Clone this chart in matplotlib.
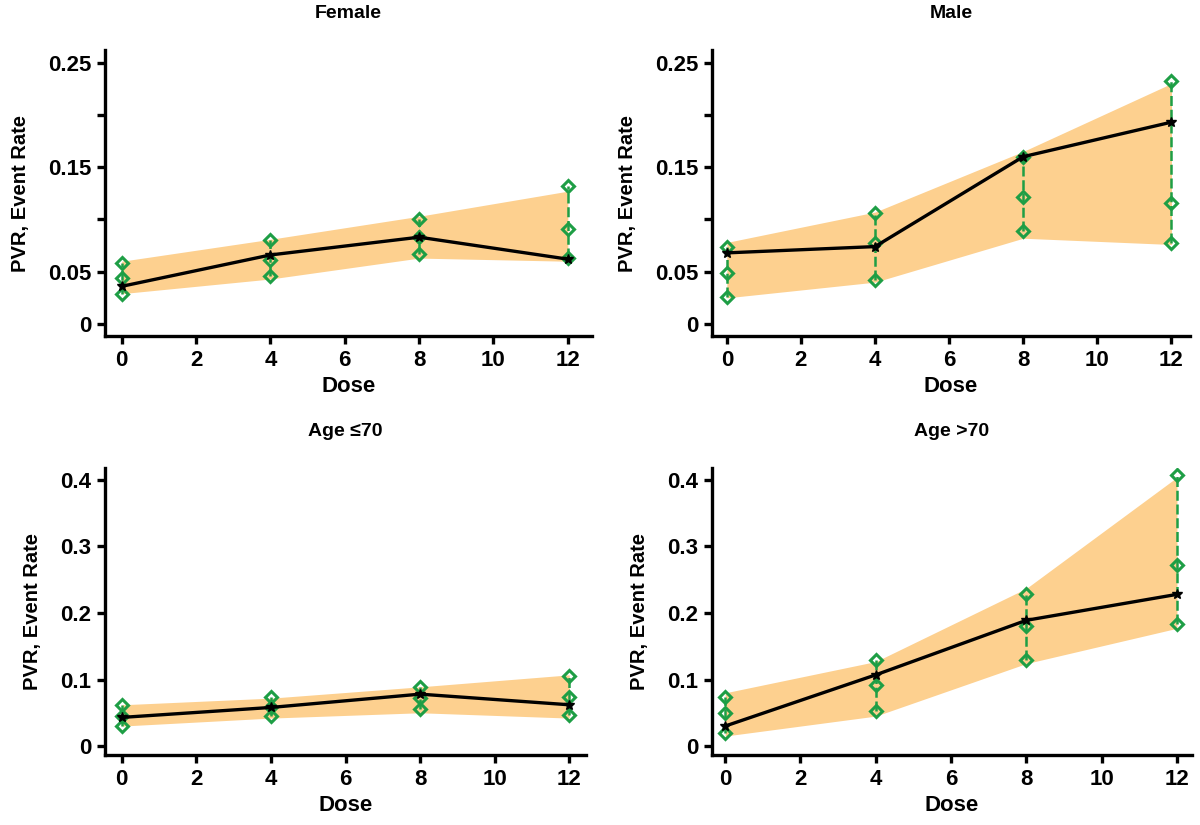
"""
PVR event rate by dose, split by sex and age group.
"""

import matplotlib
matplotlib.use("Agg")
import matplotlib.pyplot as plt
from matplotlib.ticker import FixedLocator, FixedFormatter

plt.rcParams.update({
    "font.family": ["Liberation Sans", "DejaVu Sans"],
    "font.weight": "bold",
    "axes.spines.top": False,
    "axes.spines.right": False,
})

DOSE = [0, 4, 8, 12]

# model fit (black line) and its band
FEMALE_FIT = [0.036, 0.066, 0.083, 0.062]
FEMALE_LO = [0.029, 0.043, 0.063, 0.060]
FEMALE_HI = [0.060, 0.081, 0.103, 0.127]
# observed points (green): upper, middle, lower
FEMALE_OBS_HI = [0.058, 0.080, 0.100, 0.132]
FEMALE_OBS_MID = [0.044, 0.0615, 0.0835, 0.091]
FEMALE_OBS_LO = [0.029, 0.046, 0.067, 0.0635]

MALE_FIT = [0.068, 0.074, 0.160, 0.193]
MALE_LO = [0.025, 0.040, 0.082, 0.076]
MALE_HI = [0.078, 0.107, 0.165, 0.230]
MALE_OBS_HI = [0.074, 0.106, 0.160, 0.232]
MALE_OBS_MID = [0.049, 0.077, 0.121, 0.116]
MALE_OBS_LO = [0.026, 0.042, 0.089, 0.077]

YOUNG_FIT = [0.043, 0.058, 0.078, 0.062]
YOUNG_LO = [0.030, 0.042, 0.050, 0.042]
YOUNG_HI = [0.062, 0.072, 0.089, 0.107]
YOUNG_OBS_HI = [0.062, 0.074, 0.088, 0.106]
YOUNG_OBS_MID = [0.045, 0.059, 0.072, 0.073]
YOUNG_OBS_LO = [0.030, 0.045, 0.055, 0.047]

OLD_FIT = [0.030, 0.107, 0.189, 0.228]
OLD_LO = [0.015, 0.045, 0.124, 0.177]
OLD_HI = [0.080, 0.127, 0.237, 0.404]
OLD_OBS_HI = [0.074, 0.129, 0.228, 0.407]
OLD_OBS_MID = [0.049, 0.091, 0.181, 0.272]
OLD_OBS_LO = [0.020, 0.053, 0.130, 0.183]

TOP_TICKS = [0, 0.05, 0.10, 0.15, 0.20, 0.25]
TOP_LABELS = ["0", "0.05", "", "0.15", "", "0.25"]
BOTTOM_TICKS = [0, 0.1, 0.2, 0.3, 0.4]
BOTTOM_LABELS = ["0", "0.1", "0.2", "0.3", "0.4"]
X_TICKS = [0, 2, 4, 6, 8, 10, 12]

BAND = "#FDD08F"
GREEN = "#1E9E45"

W, H = 1200, 825
panels = [
    # title, fit, lo, hi, obs (hi, mid, lo), box px (l, r, top, bottom), xlim, ylim, ticks, labels
    ("Female", FEMALE_FIT, FEMALE_LO, FEMALE_HI,
     (FEMALE_OBS_HI, FEMALE_OBS_MID, FEMALE_OBS_LO),
     (105, 592, 50, 336), (-0.45, 12.65), (-0.0115, 0.262), TOP_TICKS, TOP_LABELS),
    ("Male", MALE_FIT, MALE_LO, MALE_HI,
     (MALE_OBS_HI, MALE_OBS_MID, MALE_OBS_LO),
     (712, 1190, 50, 336), (-0.4, 12.5), (-0.0115, 0.262), TOP_TICKS, TOP_LABELS),
    ("Age \u226470", YOUNG_FIT, YOUNG_LO, YOUNG_HI,
     (YOUNG_OBS_HI, YOUNG_OBS_MID, YOUNG_OBS_LO),
     (105, 586, 468, 755), (-0.45, 12.45), (-0.0135, 0.418), BOTTOM_TICKS, BOTTOM_LABELS),
    ("Age >70", OLD_FIT, OLD_LO, OLD_HI,
     (OLD_OBS_HI, OLD_OBS_MID, OLD_OBS_LO),
     (712, 1192, 468, 755), (-0.35, 12.4), (-0.0135, 0.418), BOTTOM_TICKS, BOTTOM_LABELS),
]

fig = plt.figure(figsize=(W / 100, H / 100), dpi=100)

for title, fit, lo, hi, obs, box, xlim, ylim, yt, ylab in panels:
    l, r, t, b = box
    ax = fig.add_axes([l / W, 1 - b / H, (r - l) / W, (b - t) / H])

    ax.fill_between(DOSE, lo, hi, color=BAND, linewidth=0, zorder=1)
    obs_hi, obs_mid, obs_lo = obs
    ax.vlines(DOSE, obs_lo, obs_hi, colors=GREEN, linestyles=(0, (4, 1.5)),
              linewidth=1.8, zorder=2)
    for series in obs:
        ax.plot(DOSE, series, linestyle="none", marker="D", markersize=6,
                markerfacecolor="none", markeredgecolor=GREEN,
                markeredgewidth=2.2, zorder=3)
    ax.plot(DOSE, fit, color="black", linewidth=2.4, marker="*",
            markersize=7, zorder=4)

    ax.set_xlim(*xlim)
    ax.set_ylim(*ylim)
    ax.xaxis.set_major_locator(FixedLocator(X_TICKS))
    ax.yaxis.set_major_locator(FixedLocator(yt))
    ax.yaxis.set_major_formatter(FixedFormatter(ylab))

    for side in ("left", "bottom"):
        ax.spines[side].set_linewidth(2.4)
    ax.tick_params(width=2.4, length=6, labelsize=16, pad=4)
    for lab in ax.get_xticklabels() + ax.get_yticklabels():
        lab.set_fontweight("bold")

    ax.set_title(title, fontsize=14, fontweight="bold", pad=23)
    ax.set_xlabel("Dose", fontsize=16, fontweight="bold", labelpad=4)
    ax.set_ylabel("PVR, Event Rate", fontsize=14.5, fontweight="bold", labelpad=13)

fig.savefig("out.png", dpi=100)
